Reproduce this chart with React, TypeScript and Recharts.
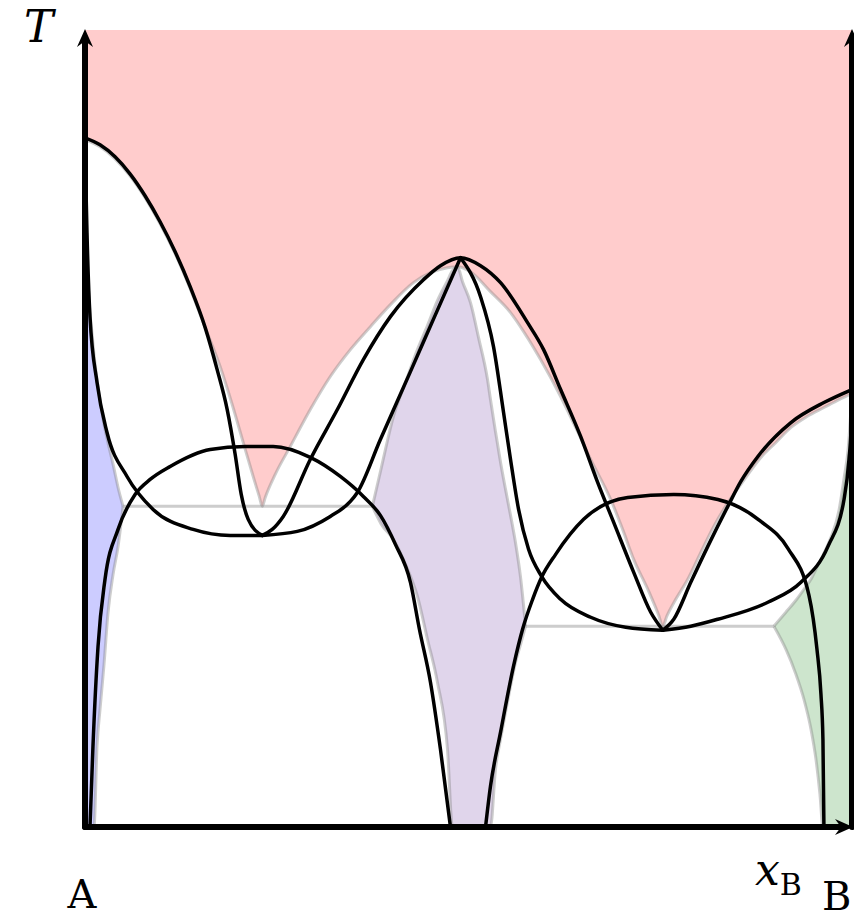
import React from "react";
import { ComposedChart, XAxis, YAxis, Area, Scatter } from "recharts";

// x = mole fraction of B in %, T on a relative 0–100 scale.
// Curves are [x, T]; bands are [x, Tlow, Thigh].

const LIQUIDUS = [
  [0, 86.22], [1.96, 85.34], [3.92, 83.83], [5.87, 81.7], [7.83, 78.95], [9.79, 75.69],
  [11.75, 71.93], [13.71, 67.54], [15.67, 62.66], [17.62, 57.77], [19.19, 53.01], [20.63, 48.25],
  [21.93, 43.98], [22.72, 41.48], [23.11, 40.23],
  [23.5, 41.35], [24.8, 44.24], [26.76, 47.74], [29.37, 52.38], [31.98, 56.52], [34.6, 59.9],
  [37.21, 62.78], [39.82, 65.54], [42.82, 68.3], [45.04, 69.55], [47.26, 70.18], [48.56, 70.3],
  [50.26, 69.67], [52.87, 67.17], [55.48, 64.54], [57.44, 61.78], [59.4, 58.65], [62.01, 54.01],
  [63.97, 50.13], [65.93, 46.12], [68.54, 41.1], [70.1, 37.34], [71.54, 33.58], [73.5, 29.57],
  [74.8, 26.57], [75.33, 25.19], [75.85, 26.44], [77.02, 28.57], [78.59, 31.08], [80.29, 34.46],
  [81.98, 37.72], [83.68, 40.48], [85.51, 42.98], [88.12, 46.37], [90.08, 48.25], [92.04, 50.13],
  [94.13, 51.5], [96.34, 52.63], [98.3, 53.63], [100, 54.39],
];

const ALPHA_BAND = [
  [0, 0, 86.2], [0.26, 0, 72.4], [0.52, 0, 66.2], [0.91, 0, 62.0], [1.17, 0, 59.3],
  [1.57, 10.2, 56.1], [1.96, 14.8, 53.6], [2.48, 20.4, 50.5], [3.0, 26.9, 48.2],
  [3.66, 31.7, 45.5], [4.31, 35.2, 42.6], [4.96, 40.23, 40.23],
];

const BETA_BAND = [
  [37.47, 40.23, 40.23], [38.64, 37.97, 45.11], [40.21, 36.09, 51.5], [41.78, 32.96, 55.76],
  [43.34, 28.95, 59.9], [44.65, 23.56, 62.91], [45.95, 18.17, 66.04], [47.26, 9.77, 68.55],
  [47.91, 0, 69.8], [48.56, 0, 70.3], [49.22, 0, 68.42], [50.26, 0, 65.79], [51.31, 0, 61.4],
  [52.48, 0, 56.14], [52.87, 0, 53.6], [53.52, 7.27, 49.6], [54.18, 11.03, 45.74],
  [54.83, 14.41, 42.36], [55.48, 17.67, 39.1], [56.14, 20.68, 35.6], [56.79, 22.93, 31.3],
  [57.44, 25.19, 25.19],
];

const GAMMA_BAND = [
  [89.82, 25.19, 25.19], [91.38, 22.31, 26.94], [92.69, 19.17, 28.45], [93.73, 16.04, 29.82],
  [94.65, 12.28, 31.08], [95.3, 8.52, 32.33], [95.82, 4.14, 33.33], [96.21, 0, 34.09],
  [97.26, 0, 36.34], [98.3, 0, 39.72], [98.96, 0, 43.73], [99.48, 0, 47.24], [100, 0, 54.51],
];

const EUTECTIC_1 = [[4.96, 40.23], [37.47, 40.23]];
const EUTECTIC_2 = [[57.44, 25.19], [89.82, 25.19]];

const L1_OUTER = [
  [0, 86.47], [1.96, 85.59], [3.92, 84.09], [5.87, 81.95], [7.83, 79.2], [9.79, 75.94],
  [11.75, 72.18], [13.71, 67.79], [15.67, 62.66], [17.23, 57.39], [18.54, 52.38], [19.58, 46.74],
  [20.37, 41.73], [21.28, 38.6], [23.11, 36.59],
];
const L1_INNER = [
  [0, 86.47], [0.13, 79.95], [0.26, 74.56], [0.65, 64.04], [1.57, 55.76], [2.87, 49.5],
  [5.48, 43.98], [8.88, 39.85], [14.1, 37.34], [18.93, 36.59], [23.11, 36.59],
];
const L2_OUTER = [
  [23.11, 36.59], [24.41, 37.34], [25.85, 38.97], [29.37, 46.12], [32.9, 52.38], [36.29, 58.65],
  [39.82, 64.04], [44.13, 68.67], [46.34, 70.43], [48.96, 71.43], [51.57, 70.43], [54.18, 68.3],
  [57.7, 63.28], [59.79, 59.9], [62.01, 54.89], [64.62, 49.0], [66.84, 43.23], [68.93, 38.22],
  [71.54, 31.95], [73.76, 26.94], [75.33, 24.69],
];
const L2_INNER_LEFT = [
  [23.11, 36.59], [27.68, 37.09], [31.98, 38.97], [34.6, 40.85], [35.51, 41.98], [38.51, 48.62],
  [42.43, 57.14], [45.69, 64.29], [48.96, 71.43],
];
const L2_INNER_RIGHT = [
  [48.96, 71.43], [51.57, 66.54], [53.26, 60.28], [54.57, 52.01], [55.48, 46.12], [56.53, 39.85],
  [57.83, 34.84], [59.53, 31.45], [62.01, 28.57], [65.93, 26.32], [70.5, 25.06], [75.33, 24.69],
];
const L3_OUTER = [
  [75.33, 24.69], [76.76, 26.07], [78.98, 30.7], [81.2, 35.21], [83.81, 40.23], [85.51, 43.36],
  [87.73, 46.49], [92.04, 50.75], [96.34, 53.26], [100, 54.89],
];
const L3_INNER = [
  [75.33, 24.69], [78.98, 25.19], [82.51, 26.07], [89.03, 28.2], [93.34, 30.7], [96.87, 35.21],
  [98.96, 41.1], [99.61, 46.12], [99.87, 49.87], [100, 54.89],
];
const DOME_1 = [
  [0.65, 0], [1.04, 10.15], [1.7, 22.68], [2.61, 31.08], [4.31, 37.34], [6.53, 41.73],
  [8.49, 43.61], [11.1, 45.24], [16.32, 47.37], [20.89, 47.74], [24.54, 47.74], [29.37, 46.37],
  [33.29, 43.98], [36.29, 41.48], [38.51, 39.1], [40.47, 35.46], [42.43, 30.7], [43.6, 24.81],
  [45.04, 18.17], [46.34, 9.77], [47.65, 0],
];
const DOME_2 = [
  [52.22, 0], [52.87, 5.14], [54.18, 11.9], [55.87, 20.18], [57.05, 24.81], [58.36, 28.57],
  [59.53, 31.33], [61.36, 34.21], [65.01, 38.6], [70.76, 41.35], [76.76, 41.73], [82.51, 41.1],
  [88.12, 38.35], [91.64, 34.96], [94.39, 29.07], [95.43, 22.31], [95.95, 16.67], [96.21, 11.03],
  [96.34, 0],
];

const CURVES = [
  L1_OUTER, L1_INNER, L2_OUTER, L2_INNER_LEFT, L2_INNER_RIGHT, L3_OUTER, L3_INNER, DOME_1, DOME_2,
];

const AXIS_LEFT = [[0, 0], [0, 100]];
const AXIS_BOTTOM = [[0, 0], [100, 0]];
const AXIS_RIGHT = [[100, 0], [100, 100]];

const pts = (rows: number[][]) => rows.map(([x, T]) => ({ x, T }));
const band = (rows: number[][]) => rows.map(([x, lo, hi]) => ({ x, T: [lo, hi] }));

const liquidBand = LIQUIDUS.map(([x, T]) => ({ x, T: [T, 100] }));

const EDGE = { stroke: "#888", strokeOpacity: 0.42, strokeWidth: 3 };
const BLACK = { stroke: "#000", strokeWidth: 3.5, strokeLinecap: "round", strokeLinejoin: "round" };

const noMark = () => <g />;

// shaft plus stealth-like arrowhead at the second point
const axisWithArrow = (props: any) => {
  const [a, b] = props.points;
  const dx = b.x - a.x;
  const dy = b.y - a.y;
  const len = Math.hypot(dx, dy) || 1;
  const ux = dx / len;
  const uy = dy / len;
  const nx = -uy;
  const ny = ux;
  const tx = b.x + ux;
  const ty = b.y + uy;
  const at = (d: number, w: number) => `${tx - ux * d + nx * w},${ty - uy * d + ny * w}`;
  return (
    <g>
      <line
        x1={a.x}
        y1={a.y}
        x2={b.x - ux * 10}
        y2={b.y - uy * 10}
        stroke="#000"
        strokeWidth={6}
        strokeLinecap="round"
      />
      <path d={`M${tx},${ty} L${at(18, 8)} L${at(12, 0)} L${at(18, -8)} Z`} fill="#000" />
    </g>
  );
};

export default function App() {
  return (
    <div
      style={{
        position: "absolute",
        left: 0,
        top: 0,
        width: 854,
        height: 919,
        overflow: "hidden",
        background: "#fff",
      }}
    >
      <ComposedChart width={854} height={919} margin={{ top: 30, right: 2, bottom: 92, left: 85 }}>
        <XAxis type="number" dataKey="x" domain={[0, 100]} hide />
        <YAxis type="number" dataKey="T" domain={[0, 100]} hide />

        <Area data={liquidBand} dataKey="T" type="monotoneX" fill="#ffcccc" fillOpacity={1} stroke="none" isAnimationActive={false} />
        <Area data={band(ALPHA_BAND)} dataKey="T" type="monotoneX" fill="#ccccff" fillOpacity={1} {...EDGE} isAnimationActive={false} />
        <Area data={band(BETA_BAND)} dataKey="T" type="monotoneX" fill="#e0d5eb" fillOpacity={1} {...EDGE} isAnimationActive={false} />
        <Area data={band(GAMMA_BAND)} dataKey="T" type="monotoneX" fill="#cde5cd" fillOpacity={1} {...EDGE} isAnimationActive={false} />

        <Scatter data={pts(LIQUIDUS)} line={EDGE} lineJointType="monotoneX" shape={noMark} isAnimationActive={false} />
        <Scatter data={pts(EUTECTIC_1)} line={EDGE} shape={noMark} isAnimationActive={false} />
        <Scatter data={pts(EUTECTIC_2)} line={EDGE} shape={noMark} isAnimationActive={false} />

        {CURVES.map((c, i) => (
          <Scatter
            key={i}
            data={pts(c)}
            line={BLACK}
            lineJointType="monotoneX"
            shape={noMark}
            isAnimationActive={false}
          />
        ))}

        <Scatter data={pts(AXIS_LEFT)} line={axisWithArrow} shape={noMark} isAnimationActive={false} />
        <Scatter data={pts(AXIS_RIGHT)} line={axisWithArrow} shape={noMark} isAnimationActive={false} />
        <Scatter data={pts(AXIS_BOTTOM)} line={axisWithArrow} shape={noMark} isAnimationActive={false} />
      </ComposedChart>

      <svg
        width={854}
        height={919}
        style={{ position: "absolute", left: 0, top: 0, pointerEvents: "none" }}
        fontFamily="'DejaVu Serif', serif"
      >
        <text x={24} y={42} fontSize={44} fontStyle="italic">T</text>
        <text x={82} y={908} fontSize={40} textAnchor="middle">A</text>
        <text x={822} y={910} fontSize={40}>B</text>
        <text x={755} y={885} fontSize={44} fontStyle="italic">
          x<tspan fontSize={30} fontStyle="normal" dy={10}>B</tspan>
        </text>
      </svg>
    </div>
  );
}
